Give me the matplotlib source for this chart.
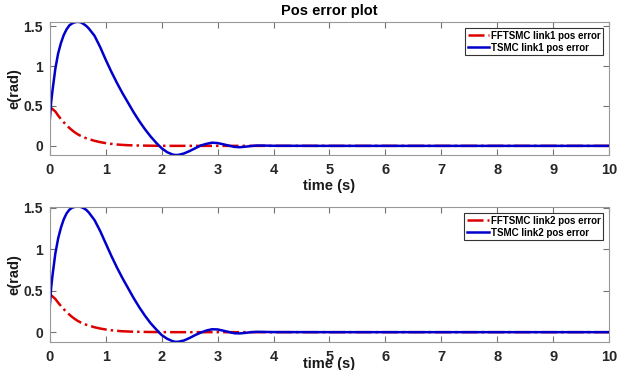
import matplotlib
matplotlib.use('Agg')
import matplotlib.pyplot as plt

plt.rcParams['font.family'] = ['Liberation Sans', 'DejaVu Sans']
plt.rcParams['font.weight'] = 'bold'

# time samples (s)
t = [0, 0.025, 0.05, 0.1, 0.15, 0.2, 0.25, 0.3, 0.35, 0.4, 0.45, 0.5, 0.55,
     0.6, 0.65, 0.7,
     0.8, 0.9, 1.0, 1.1, 1.2, 1.3, 1.4, 1.5, 1.6, 1.7, 1.8, 1.9, 2.0, 2.1, 2.2,
     2.25,
     2.3, 2.4, 2.5, 2.6, 2.7, 2.8, 2.9, 3.0, 3.1, 3.2, 3.3, 3.4, 3.5, 3.6, 3.7,
     3.8,
     4.0, 5.0, 6.0, 7.0, 8.0, 9.0, 10.0]

# link 1 errors (rad)
tsmc1 = [0.32, 0.55, 0.70, 0.97, 1.16, 1.29, 1.39, 1.46, 1.51, 1.535, 1.55,
         1.555, 1.55, 1.53, 1.505, 1.47,
         1.38, 1.24, 1.08, 0.93, 0.79, 0.66, 0.54, 0.42, 0.31, 0.21, 0.12,
         0.04, -0.03, -0.08, -0.11,
         -0.115,
         -0.113, -0.095, -0.065, -0.03, 0.005, 0.025, 0.04, 0.035, 0.02,
         0.003, -0.013, -0.017, -0.01, -0.002, 0.004, 0.004,
         0.001, 0.0, 0.0, 0.0, 0.0, 0.0, 0.0]
fftsmc1 = [0.48, 0.475, 0.46, 0.43, 0.38, 0.335, 0.295, 0.26, 0.225, 0.195,
           0.168, 0.145, 0.126, 0.11, 0.096, 0.085,
           0.063, 0.047, 0.034, 0.025, 0.017, 0.012, 0.008, 0.006, 0.004,
           0.003, 0.002, 0.001, 0.001, 0.0, 0.0,
           0.0,
           0.0, 0.0, 0.0, 0.0, 0.0, 0.0, 0.0, 0.0, 0.0, 0.0, 0.0, 0.0, 0.0,
           0.0, 0.0, 0.0,
           0.0, 0.0, 0.0, 0.0, 0.0, 0.0, 0.0]

# link 2 errors (rad)
tsmc2 = [0.31, 0.54, 0.69, 0.95, 1.13, 1.26, 1.36, 1.43, 1.475, 1.50, 1.51,
         1.515, 1.51, 1.495, 1.475, 1.44,
         1.35, 1.22, 1.07, 0.92, 0.78, 0.65, 0.53, 0.41, 0.30, 0.20, 0.11,
         0.035, -0.035, -0.08, -0.11,
         -0.117,
         -0.115, -0.10, -0.07, -0.035, -0.005, 0.02, 0.035, 0.033, 0.018,
         0.002, -0.013, -0.015, -0.008, 0.0, 0.004, 0.003,
         0.001, 0.0, 0.0, 0.0, 0.0, 0.0, 0.0]
fftsmc2 = [0.45, 0.445, 0.43, 0.40, 0.355, 0.315, 0.277, 0.244, 0.212, 0.183,
           0.158, 0.136, 0.118, 0.103, 0.09, 0.08,
           0.059, 0.044, 0.032, 0.023, 0.016, 0.011, 0.008, 0.005, 0.004,
           0.003, 0.002, 0.001, 0.001, 0.0, 0.0,
           0.0,
           0.0, 0.0, 0.0, 0.0, 0.0, 0.0, 0.0, 0.0, 0.0, 0.0, 0.0, 0.0, 0.0,
           0.0, 0.0, 0.0,
           0.0, 0.0, 0.0, 0.0, 0.0, 0.0, 0.0]

xticks = [0, 1, 2, 3, 4, 5, 6, 7, 8, 9, 10]
yticks = [0, 0.5, 1, 1.5]
ytick_labels = ['0', '0.5', '1', '1.5']

fig = plt.figure(figsize=(6.3, 3.7), dpi=100)
ax1 = fig.add_axes([0.079, 0.581, 0.888, 0.360])
ax2 = fig.add_axes([0.079, 0.076, 0.888, 0.365])


def style_axis(ax, ylim, label_y):
    """ matlab-like box axis """
    ax.set_xlim(0, 10)
    ax.set_ylim(*ylim)
    ax.set_xticks(xticks)
    ax.set_yticks(yticks)
    ax.set_yticklabels(ytick_labels)
    ax.tick_params(direction='in', top=True, right=True, length=4, width=0.8,
                   color='0.45', labelsize=10.5, labelcolor='0.15', pad=6)
    ax.tick_params(axis='y', labelsize=10, pad=5)
    for sp in ax.spines.values():
        sp.set_color('0.6')
        sp.set_linewidth(0.8)
    ax.set_xlabel('time (s)', fontsize=10.5, fontweight='bold', color='0.1')
    ax.xaxis.set_label_coords(0.5, label_y)
    ax.set_ylabel('e(rad)', fontsize=10.5, fontweight='bold', color='0.1')
    ax.yaxis.set_label_coords(-0.05, 0.5)


for ax, red, blue, link, ylim, label_y in [
        (ax1, fftsmc1, tsmc1, 'link1', (-0.115, 1.555), -0.18),
        (ax2, fftsmc2, tsmc2, 'link2', (-0.117, 1.51), -0.112)]:
    ax.plot(t, red, color='#dd0000', ls='-.', lw=1.8,
            label='FFTSMC %s pos error' % link)
    ax.plot(t, blue, color='#0000cc', ls='-', lw=1.8,
            label='TSMC %s pos error' % link)
    style_axis(ax, ylim, label_y)
    leg = ax.legend(loc='upper right', fontsize=7, handlelength=2.2,
                    handletextpad=0.2, borderpad=0.3, labelspacing=0.2,
                    fancybox=False, framealpha=1, borderaxespad=0.6)
    leg.get_frame().set_edgecolor('0.2')
    leg.get_frame().set_linewidth(0.8)

ax1.set_title('Pos error plot', fontsize=10.5, fontweight='bold', pad=5)

fig.savefig('out.png', dpi=100)
